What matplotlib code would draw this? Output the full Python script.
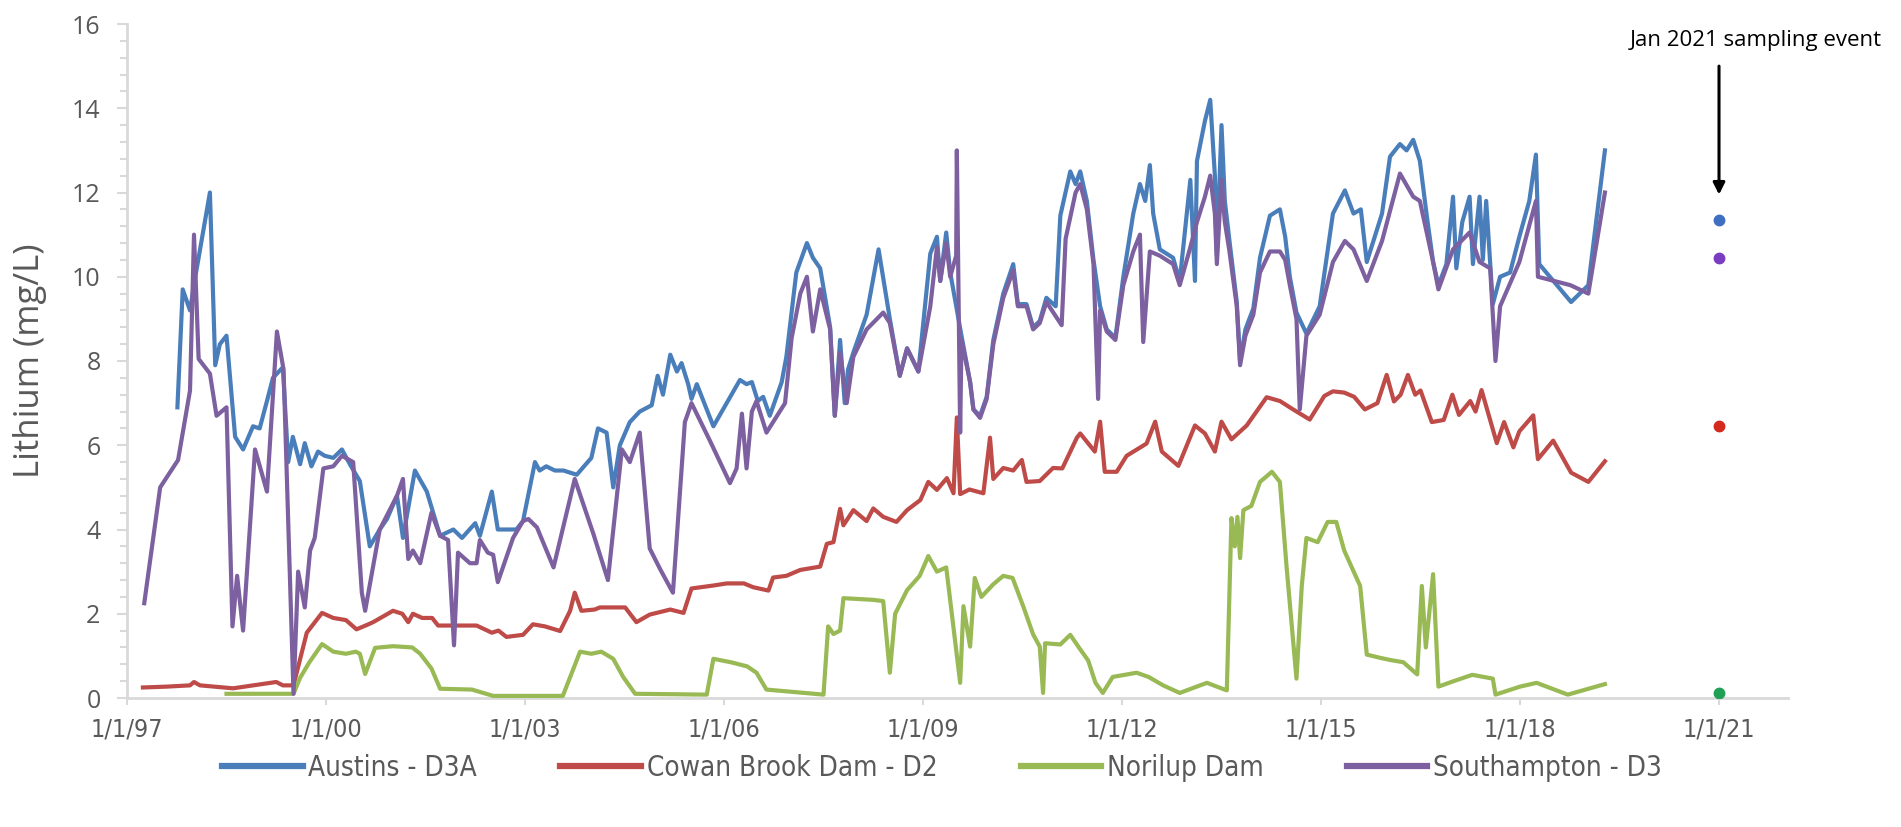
import matplotlib
matplotlib.use("Agg")
import matplotlib.pyplot as plt
from matplotlib.ticker import MultipleLocator, FixedLocator

# ---- Lithium concentrations (mg/L) by sampling date (decimal year) ----
austins_t = [1997.76, 1997.84, 1997.95, 1998.03, 1998.25, 1998.33, 1998.40, 1998.50, 1998.63, 1998.75,
             1998.90, 1999.00, 1999.11, 1999.20, 1999.35, 1999.43, 1999.50, 1999.61, 1999.68, 1999.78,
             1999.88, 1999.98, 2000.11, 2000.24, 2000.36, 2000.51, 2000.66, 2000.81, 2000.92, 2001.07,
             2001.16, 2001.34, 2001.52, 2001.72, 2001.92, 2002.05, 2002.25, 2002.32, 2002.50, 2002.59,
             2002.87, 2002.97, 2003.15, 2003.22, 2003.32, 2003.45, 2003.58, 2003.78, 2004.00, 2004.10,
             2004.23, 2004.33, 2004.43, 2004.58, 2004.73, 2004.91, 2005.00, 2005.08, 2005.19, 2005.29,
             2005.36, 2005.46, 2005.51, 2005.59, 2005.84, 2006.04, 2006.24, 2006.34, 2006.42, 2006.51,
             2006.59, 2006.69, 2006.87, 2006.94, 2007.09, 2007.25, 2007.34, 2007.45, 2007.60, 2007.67,
             2007.75, 2007.82, 2007.87, 2007.95, 2008.15, 2008.33, 2008.50, 2008.65, 2008.76, 2008.93,
             2009.11, 2009.21, 2009.26, 2009.35, 2009.41, 2009.58, 2009.71, 2009.76, 2009.86, 2009.96,
             2010.06, 2010.21, 2010.36, 2010.43, 2010.56, 2010.66, 2010.76, 2010.86, 2011.00, 2011.07,
             2011.22, 2011.30, 2011.37, 2011.47, 2011.57, 2011.67, 2011.77, 2011.90, 2012.02, 2012.17,
             2012.27, 2012.35, 2012.42, 2012.47, 2012.57, 2012.77, 2012.87, 2013.03, 2013.10, 2013.13,
             2013.25, 2013.33, 2013.40, 2013.43, 2013.50, 2013.55, 2013.62, 2013.73, 2013.78, 2013.86,
             2013.98, 2014.08, 2014.23, 2014.38, 2014.46, 2014.53, 2014.63, 2014.78, 2014.98, 2015.18,
             2015.36, 2015.49, 2015.60, 2015.69, 2015.79, 2015.92, 2016.04, 2016.19, 2016.29, 2016.39,
             2016.49, 2016.59, 2016.69, 2016.77, 2016.89, 2016.99, 2017.04, 2017.13, 2017.24, 2017.29,
             2017.39, 2017.44, 2017.49, 2017.59, 2017.70, 2017.85, 2017.99, 2018.14, 2018.24, 2018.29,
             2018.77, 2019.03, 2019.28]
austins_li = [6.9, 9.7, 9.2, 10.0, 12.0, 7.9, 8.4, 8.6, 6.2, 5.9,
              6.45, 6.4, 7.05, 7.6, 7.85, 5.6, 6.2, 5.55, 6.05, 5.5,
              5.85, 5.75, 5.7, 5.9, 5.55, 5.15, 3.6, 4.0, 4.25, 4.8,
              3.8, 5.4, 4.9, 3.85, 4.0, 3.8, 4.15, 3.85, 4.9, 4.0,
              4.0, 4.2, 5.6, 5.4, 5.5, 5.4, 5.4, 5.3, 5.7, 6.4,
              6.3, 5.0, 6.0, 6.55, 6.8, 6.95, 7.65, 7.2, 8.15, 7.75,
              7.95, 7.45, 7.1, 7.45, 6.45, 7.0, 7.55, 7.45, 7.5, 7.05,
              7.15, 6.7, 7.5, 8.1, 10.1, 10.8, 10.45, 10.2, 8.8, 6.7,
              8.5, 7.0, 7.8, 8.2, 9.1, 10.65, 9.0, 7.65, 8.3, 7.75,
              10.55, 10.95, 9.9, 11.05, 10.1, 8.6, 7.5, 6.85, 6.7, 7.15,
              8.5, 9.6, 10.3, 9.35, 9.35, 8.8, 8.95, 9.5, 9.3, 11.45,
              12.5, 12.2, 12.5, 11.8, 10.4, 9.3, 8.75, 8.55, 10.0, 11.5,
              12.2, 11.8, 12.65, 11.5, 10.65, 10.45, 9.9, 12.3, 9.9, 12.75,
              13.7, 14.2, 12.4, 10.5, 13.6, 11.8, 10.85, 9.4, 8.0, 8.75,
              9.25, 10.45, 11.45, 11.6, 10.95, 10.0, 9.15, 8.65, 9.3, 11.5,
              12.05, 11.5, 11.6, 10.35, 10.85, 11.5, 12.85, 13.15, 13.0, 13.25,
              12.75, 11.5, 10.35, 9.8, 10.3, 11.9, 10.2, 11.3, 11.9, 10.3,
              11.9, 10.4, 11.8, 9.35, 10.0, 10.1, 10.95, 11.8, 12.9, 10.3,
              9.4, 9.8, 13.0]

cowan_t = [1997.24, 1997.60, 1997.95, 1998.01, 1998.10, 1998.60, 1998.90, 1999.25, 1999.35, 1999.51,
           1999.71, 1999.94, 2000.11, 2000.30, 2000.46, 2000.64, 2000.71, 2001.01, 2001.15, 2001.24,
           2001.31, 2001.45, 2001.60, 2001.69, 2002.27, 2002.50, 2002.60, 2002.72, 2002.97, 2003.12,
           2003.30, 2003.53, 2003.68, 2003.75, 2003.85, 2004.05, 2004.13, 2004.51, 2004.68, 2004.88,
           2005.19, 2005.39, 2005.51, 2005.84, 2006.04, 2006.30, 2006.44, 2006.67, 2006.74, 2006.94,
           2007.15, 2007.45, 2007.55, 2007.65, 2007.75, 2007.80, 2007.95, 2008.15, 2008.25, 2008.40,
           2008.60, 2008.76, 2008.96, 2009.08, 2009.21, 2009.36, 2009.46, 2009.51, 2009.56, 2009.70,
           2009.91, 2010.01, 2010.06, 2010.21, 2010.36, 2010.49, 2010.56, 2010.76, 2010.96, 2011.10,
           2011.32, 2011.37, 2011.59, 2011.67, 2011.74, 2011.92, 2012.07, 2012.37, 2012.50, 2012.60,
           2012.85, 2013.10, 2013.25, 2013.40, 2013.50, 2013.65, 2013.88, 2014.18, 2014.38, 2014.58,
           2014.83, 2015.05, 2015.18, 2015.35, 2015.50, 2015.66, 2015.85, 2015.99, 2016.10, 2016.20,
           2016.31, 2016.42, 2016.50, 2016.67, 2016.85, 2016.98, 2017.08, 2017.25, 2017.33, 2017.42,
           2017.65, 2017.76, 2017.90, 2017.99, 2018.20, 2018.27, 2018.50, 2018.77, 2019.03, 2019.28]
cowan_li = [0.25, 0.27, 0.3, 0.38, 0.3, 0.23, 0.3, 0.38, 0.3, 0.3,
            1.55, 2.02, 1.9, 1.85, 1.63, 1.75, 1.8, 2.07, 2.0, 1.8,
            2.0, 1.9, 1.9, 1.72, 1.72, 1.55, 1.6, 1.45, 1.5, 1.75,
            1.7, 1.59, 2.07, 2.5, 2.07, 2.1, 2.15, 2.15, 1.8, 1.98,
            2.1, 2.02, 2.6, 2.67, 2.72, 2.72, 2.63, 2.55, 2.86, 2.9,
            3.04, 3.12, 3.66, 3.7, 4.49, 4.1, 4.46, 4.2, 4.5, 4.3,
            4.18, 4.46, 4.7, 5.13, 4.94, 5.22, 4.86, 6.66, 4.84, 4.95,
            4.86, 6.18, 5.2, 5.46, 5.4, 5.65, 5.13, 5.15, 5.46, 5.45,
            6.18, 6.28, 5.85, 6.56, 5.37, 5.37, 5.75, 6.04, 6.56, 5.85,
            5.51, 6.47, 6.28, 5.85, 6.56, 6.14, 6.47, 7.14, 7.05, 6.85,
            6.61, 7.17, 7.28, 7.25, 7.15, 6.85, 7.0, 7.67, 7.04, 7.2,
            7.67, 7.2, 7.3, 6.55, 6.6, 7.2, 6.72, 7.05, 6.8, 7.31,
            6.05, 6.55, 5.95, 6.33, 6.71, 5.67, 6.11, 5.35, 5.13, 5.62]

norilup_t = [1998.50, 1999.51, 1999.61, 1999.75, 1999.94, 2000.11, 2000.30, 2000.45, 2000.51, 2000.59,
             2000.74, 2001.01, 2001.30, 2001.42, 2001.59, 2001.72, 2002.20, 2002.52, 2003.57, 2003.83,
             2004.00, 2004.15, 2004.33, 2004.48, 2004.66, 2005.74, 2005.84, 2006.10, 2006.35, 2006.49,
             2006.64, 2007.50, 2007.57, 2007.65, 2007.75, 2007.80, 2008.25, 2008.40, 2008.50, 2008.58,
             2008.76, 2008.95, 2009.08, 2009.21, 2009.35, 2009.56, 2009.61, 2009.71, 2009.78, 2009.88,
             2010.06, 2010.21, 2010.35, 2010.51, 2010.66, 2010.76, 2010.81, 2010.84, 2011.07, 2011.22,
             2011.35, 2011.49, 2011.60, 2011.71, 2011.86, 2012.22, 2012.40, 2012.62, 2012.87, 2013.28,
             2013.58, 2013.65, 2013.70, 2013.74, 2013.78, 2013.83, 2013.95, 2014.08, 2014.26, 2014.38,
             2014.48, 2014.63, 2014.71, 2014.78, 2014.95, 2015.10, 2015.23, 2015.35, 2015.59, 2015.69,
             2015.90, 2016.05, 2016.24, 2016.45, 2016.52, 2016.58, 2016.69, 2016.77, 2017.00, 2017.28,
             2017.59, 2017.63, 2018.00, 2018.25, 2018.72, 2019.28]
norilup_li = [0.1, 0.1, 0.48, 0.85, 1.28, 1.1, 1.05, 1.1, 1.05, 0.57,
              1.19, 1.23, 1.2, 1.05, 0.7, 0.22, 0.2, 0.05, 0.05, 1.1,
              1.05, 1.1, 0.93, 0.5, 0.1, 0.08, 0.93, 0.85, 0.75, 0.6,
              0.2, 0.08, 1.7, 1.52, 1.6, 2.37, 2.33, 2.3, 0.6, 2.0,
              2.56, 2.9, 3.37, 3.0, 3.1, 0.36, 2.18, 1.22, 2.85, 2.4,
              2.7, 2.9, 2.85, 2.18, 1.51, 1.22, 0.12, 1.3, 1.27, 1.5,
              1.2, 0.89, 0.36, 0.12, 0.5, 0.6, 0.5, 0.3, 0.12, 0.36,
              0.18, 4.27, 3.6, 4.3, 3.32, 4.46, 4.56, 5.13, 5.37, 5.13,
              3.13, 0.46, 2.66, 3.8, 3.7, 4.18, 4.18, 3.5, 2.66, 1.03,
              0.95, 0.9, 0.85, 0.56, 2.66, 1.2, 2.94, 0.27, 0.4, 0.55,
              0.46, 0.08, 0.27, 0.36, 0.08, 0.33]

southampton_t = [1997.26, 1997.50, 1997.77, 1997.95, 1998.01, 1998.08, 1998.25, 1998.35, 1998.50, 1998.59,
                 1998.66, 1998.75, 1998.93, 1999.11, 1999.26, 1999.36, 1999.51, 1999.58, 1999.68, 1999.76,
                 1999.83, 1999.96, 2000.11, 2000.24, 2000.41, 2000.54, 2000.59, 2000.81, 2001.07, 2001.16,
                 2001.24, 2001.31, 2001.42, 2001.59, 2001.72, 2001.84, 2001.93, 2001.99, 2002.17, 2002.27,
                 2002.32, 2002.44, 2002.52, 2002.59, 2002.82, 2002.97, 2003.05, 2003.18, 2003.43, 2003.75,
                 2004.03, 2004.25, 2004.46, 2004.58, 2004.73, 2004.88, 2005.04, 2005.23, 2005.41, 2005.51,
                 2005.79, 2006.09, 2006.19, 2006.27, 2006.34, 2006.42, 2006.49, 2006.64, 2006.92, 2007.02,
                 2007.15, 2007.25, 2007.34, 2007.45, 2007.60, 2007.67, 2007.75, 2007.85, 2007.95, 2008.15,
                 2008.40, 2008.50, 2008.65, 2008.76, 2008.93, 2009.11, 2009.21, 2009.26, 2009.35, 2009.41,
                 2009.50, 2009.51, 2009.56, 2009.58, 2009.71, 2009.76, 2009.86, 2009.96, 2010.06, 2010.21,
                 2010.36, 2010.43, 2010.56, 2010.66, 2010.76, 2010.86, 2011.09, 2011.15, 2011.30, 2011.37,
                 2011.47, 2011.57, 2011.64, 2011.67, 2011.77, 2011.90, 2012.02, 2012.17, 2012.27, 2012.32,
                 2012.42, 2012.57, 2012.77, 2012.87, 2013.03, 2013.13, 2013.25, 2013.33, 2013.40, 2013.43,
                 2013.50, 2013.55, 2013.62, 2013.73, 2013.78, 2013.86, 2013.98, 2014.08, 2014.23, 2014.38,
                 2014.46, 2014.53, 2014.63, 2014.68, 2014.78, 2014.98, 2015.18, 2015.36, 2015.49, 2015.69,
                 2015.92, 2016.19, 2016.39, 2016.49, 2016.69, 2016.77, 2016.99, 2017.24, 2017.39, 2017.55,
                 2017.63, 2017.70, 2017.99, 2018.24, 2018.27, 2018.76, 2019.03, 2019.28]
southampton_li = [2.25, 5.0, 5.65, 7.3, 11.0, 8.05, 7.7, 6.7, 6.9, 1.7,
                  2.9, 1.6, 5.9, 4.9, 8.7, 7.8, 0.1, 3.0, 2.15, 3.5,
                  3.8, 5.45, 5.5, 5.75, 5.6, 2.5, 2.07, 4.0, 4.8, 5.2,
                  3.3, 3.5, 3.2, 4.4, 3.85, 3.75, 1.25, 3.45, 3.2, 3.2,
                  3.75, 3.45, 3.4, 2.75, 3.8, 4.2, 4.25, 4.05, 3.1, 5.2,
                  3.9, 2.8, 5.9, 5.6, 6.3, 3.55, 3.05, 2.5, 6.55, 7.0,
                  6.1, 5.1, 5.45, 6.75, 5.45, 6.8, 7.05, 6.3, 7.0, 8.55,
                  9.6, 10.0, 8.7, 9.7, 8.75, 6.7, 8.2, 7.0, 8.1, 8.75,
                  9.15, 8.9, 7.65, 8.3, 7.75, 9.3, 10.7, 9.9, 10.8, 10.0,
                  10.5, 13.0, 6.3, 8.5, 7.5, 6.85, 6.65, 7.1, 8.4, 9.5,
                  10.15, 9.3, 9.3, 8.75, 8.9, 9.4, 8.85, 10.9, 12.0, 12.2,
                  11.6, 10.3, 7.1, 9.2, 8.7, 8.5, 9.8, 10.6, 11.0, 8.45,
                  10.6, 10.5, 10.3, 9.8, 10.7, 11.3, 11.9, 12.4, 11.5, 10.3,
                  12.3, 11.3, 10.6, 9.3, 7.9, 8.6, 9.1, 10.1, 10.6, 10.6,
                  10.4, 9.8, 9.0, 6.85, 8.6, 9.1, 10.35, 10.85, 10.65, 9.9,
                  10.85, 12.45, 11.9, 11.8, 10.35, 9.7, 10.65, 11.05, 10.35, 10.2,
                  8.0, 9.3, 10.35, 11.8, 10.0, 9.8, 9.6, 12.0]

# Jan 2021 sampling event (one value per site)
event_t = 2021.0
event_li = [11.35, 6.45, 0.12, 10.45]   # Austins, Cowan Brook, Norilup, Southampton

series_names = ["Austins - D3A", "Cowan Brook Dam - D2", "Norilup Dam", "Southampton - D3"]
line_colors = ["#4A7EBB", "#BE4B48", "#98B954", "#7D60A0"]
dot_colors = ["#3E6FC0", "#D42A1E", "#1FA055", "#7A3CC0"]

tick_years = [1997, 2000, 2003, 2006, 2009, 2012, 2015, 2018, 2021]
tick_labels = [f"1/1/{y % 100:02d}" for y in tick_years]

# ---- figure ----
W, H, DPI = 1901, 827, 100
fig = plt.figure(figsize=(W / DPI, H / DPI), dpi=DPI)
ax = fig.add_axes([127 / W, 1 - 698 / H, (1788 - 127) / W, (698 - 24) / H])

txt_grey = "#595959"
axis_grey = "#D9D9D9"
base_font = ["Open Sans", "DejaVu Sans"]
narrow_font = dict(family="DejaVu Sans", stretch="condensed")

series = [(austins_t, austins_li), (cowan_t, cowan_li),
          (norilup_t, norilup_li), (southampton_t, southampton_li)]
for (t, v), name, c in zip(series, series_names, line_colors):
    ax.plot(t, v, color=c, lw=3.0, label=name, solid_joinstyle="round", zorder=3)

for v, c in zip(event_li, dot_colors):
    ax.plot([event_t], [v], "o", color=c, ms=7.5, mec=c, zorder=4)

ax.set_xlim(1997.0, 2022.04)
ax.set_ylim(0, 16)

ax.xaxis.set_major_locator(FixedLocator(tick_years))
ax.set_xticklabels(tick_labels, fontdict=dict(size=18, color=txt_grey, **narrow_font))
ax.yaxis.set_major_locator(MultipleLocator(2))
ax.yaxis.set_minor_locator(MultipleLocator(0.4))
for lab in ax.get_yticklabels():
    lab.set_family(base_font)
    lab.set_fontsize(18)
    lab.set_color(txt_grey)

ax.tick_params(axis="x", which="major", length=5, width=1.5, color=axis_grey, pad=9)
ax.tick_params(axis="y", which="major", length=7, width=1.5, color=axis_grey, pad=12)
ax.tick_params(axis="y", which="minor", length=5, width=1.5, color=axis_grey)

for side in ("top", "right"):
    ax.spines[side].set_visible(False)
for side in ("left", "bottom"):
    ax.spines[side].set_color(axis_grey)
    ax.spines[side].set_linewidth(2.0)

fig.text(30 / W, 1 - 361 / H, "Lithium (mg/L)", rotation=90, ha="center", va="center",
         fontsize=25, color=txt_grey, family=base_font)

# sampling-event annotation
ax.annotate("", xy=(event_t, 11.95), xytext=(event_t, 15.0),
            arrowprops=dict(arrowstyle="-|>,head_length=0.7,head_width=0.35",
                            color="black", lw=2.2, shrinkA=0, shrinkB=0),
            annotation_clip=False)
ax.text(2021.55, 15.6, "Jan 2021 sampling event", ha="center", va="center",
        fontsize=16, color="black", family=base_font, clip_on=False)

leg = fig.legend(loc="center", bbox_to_anchor=(942 / W, 1 - 768 / H), ncol=4, frameon=False,
                 handlelength=2.9, handletextpad=0.2, columnspacing=3.0,
                 prop=dict(size=20, **narrow_font))
for t in leg.get_texts():
    t.set_color(txt_grey)
for h in leg.get_lines():
    h.set_linewidth(4.5)

fig.savefig("out.png", dpi=DPI)
